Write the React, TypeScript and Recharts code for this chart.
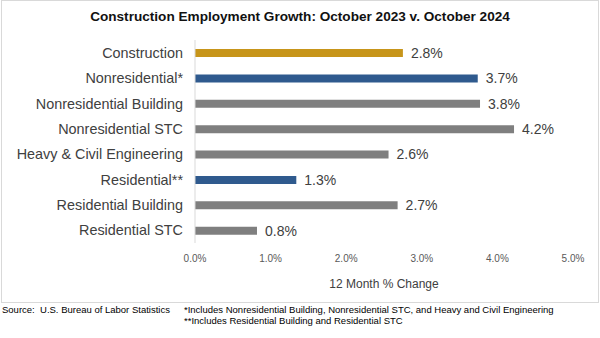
import React from "react";
import { BarChart, Bar, XAxis, YAxis, Cell, LabelList } from "recharts";

const categories = [
  "Construction",
  "Nonresidential*",
  "Nonresidential Building",
  "Nonresidential STC",
  "Heavy & Civil Engineering",
  "Residential**",
  "Residential Building",
  "Residential STC",
];
const values = [2.75, 3.74, 3.77, 4.22, 2.56, 1.34, 2.68, 0.82];
const valueLabels = ["2.8%", "3.7%", "3.8%", "4.2%", "2.6%", "1.3%", "2.7%", "0.8%"];
const colors = ["#C7951A", "#2F5A8E", "#7F7F7F", "#7F7F7F", "#7F7F7F", "#2F5A8E", "#7F7F7F", "#7F7F7F"];
const xTicks = [0, 1, 2, 3, 4, 5];

const data = categories.map((name, i) => ({ name, value: values[i], label: valueLabels[i] }));

const FONT = "'Liberation Sans', Arial, sans-serif";

export default function App() {
  return (
    <div style={{ position: "absolute", left: 0, top: 0, width: 600, height: 338, background: "#fff", fontFamily: FONT }}>
      <div style={{ position: "absolute", left: 1, top: 0, width: 596, height: 301, border: "1px solid #d9d9d9" }} />
      <div style={{ position: "absolute", left: 0, top: 8, width: 600, textAlign: "center", fontSize: 13.6, fontWeight: "bold", color: "#111", lineHeight: "18px" }}>
        Construction Employment Growth: October 2023 v. October 2024
      </div>
      <div style={{ position: "absolute", left: 0, top: 0 }}>
        <BarChart
          width={600}
          height={338}
          data={data}
          layout="vertical"
          margin={{ top: 40, right: 27, bottom: 75, left: 0 }}
          barCategoryGap={0}
        >
          <XAxis
            type="number"
            domain={[0, 5]}
            ticks={xTicks}
            tickFormatter={(v: number) => v.toFixed(1) + "%"}
            axisLine={false}
            tickLine={false}
            tickMargin={6}
            height={20}
            tick={{ fontSize: 10, fill: "#595959", fontFamily: FONT }}
          />
          <YAxis
            type="category"
            dataKey="name"
            width={195}
            axisLine={{ stroke: "#d9d9d9" }}
            tickLine={false}
            tickMargin={6}
            interval={0}
            tick={{ fontSize: 14.4, fill: "#404040", fontFamily: FONT }}
          />
          <Bar dataKey="value" barSize={8} isAnimationActive={false}>
            {data.map((d, i) => (
              <Cell key={d.name} fill={colors[i]} />
            ))}
            <LabelList dataKey="label" position="right" offset={8} style={{ fontSize: 14, fill: "#404040", fontFamily: FONT }} />
          </Bar>
        </BarChart>
      </div>
      <div style={{ position: "absolute", left: 195, width: 378, top: 276, textAlign: "center", fontSize: 12, color: "#404040", lineHeight: "16px" }}>
        12 Month % Change
      </div>
      <div style={{ position: "absolute", left: 2, top: 304, fontSize: 9.5, color: "#000", lineHeight: "11px", whiteSpace: "pre" }}>
        Source:  U.S. Bureau of Labor Statistics
      </div>
      <div style={{ position: "absolute", left: 184, top: 304, fontSize: 9.5, color: "#000", lineHeight: "11px", whiteSpace: "pre" }}>
        *Includes Nonresidential Building, Nonresidential STC, and Heavy and Civil Engineering{"\n"}**Includes Residential Building and Residential STC
      </div>
    </div>
  );
}
